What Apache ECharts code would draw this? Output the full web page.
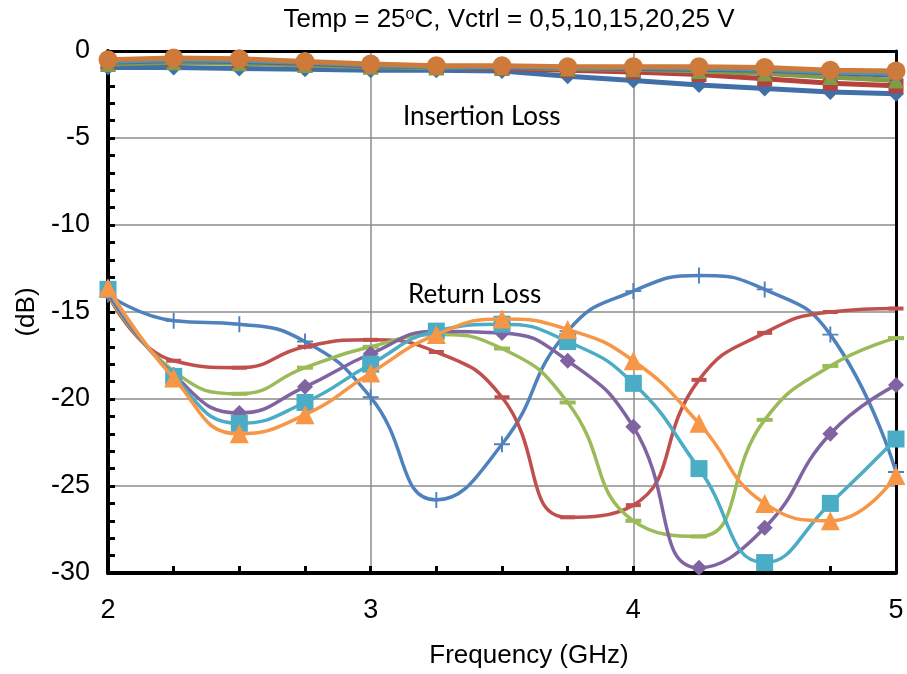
<!DOCTYPE html>
<html>
<head>
<meta charset="utf-8">
<script src="https://cdn.jsdelivr.net/npm/echarts@6/dist/echarts.min.js"></script>
<style>
  html, body { margin: 0; padding: 0; background: #fff; }
  #chart { width: 907px; height: 674px; }
</style>
</head>
<body>
<div id="chart"></div>
<script>
// frequency points (GHz)
var freq = [2, 2.25, 2.5, 2.75, 3, 3.25, 3.5, 3.75, 4, 4.25, 4.5, 4.75, 5];

// return loss, Vctrl = 0,5,10,15,20,25 V
var rl0  = [-14.0, -15.5, -15.7, -16.7, -19.9, -25.8, -22.6, -16.1, -13.8, -12.9, -13.7, -16.3, -24.2];
var rl5  = [-14.0, -17.8, -18.2, -17.0, -16.6, -17.3, -19.9, -26.8, -26.1, -18.9, -16.2, -15.0, -14.8];
var rl10 = [-14.0, -18.4, -19.7, -18.2, -17.0, -16.3, -17.1, -20.2, -27.0, -27.9, -21.2, -18.1, -16.5];
var rl15 = [-13.9, -18.6, -20.8, -19.3, -17.4, -16.1, -16.2, -17.8, -21.6, -29.7, -27.4, -22.0, -19.2];
var rl20 = [-13.7, -18.7, -21.4, -20.2, -18.0, -16.1, -15.7, -16.7, -19.1, -24.0, -29.4, -26.0, -22.3];
var rl25 = [-13.6, -18.8, -22.0, -20.9, -18.5, -16.3, -15.4, -16.0, -17.8, -21.4, -26.0, -27.0, -24.4];

// insertion loss, Vctrl = 0,5,10,15,20,25 V
var il0  = [-0.95, -0.95, -1.0, -1.05, -1.1, -1.1, -1.15, -1.45, -1.7, -1.95, -2.15, -2.35, -2.45];
var il5  = [-0.7, -0.6, -0.65, -0.75, -0.85, -0.95, -1.0, -1.1, -1.2, -1.35, -1.6, -1.85, -2.0];
var il10 = [-0.75, -0.65, -0.7, -0.8, -0.9, -0.95, -0.95, -1.0, -1.05, -1.15, -1.3, -1.5, -1.7];
var il15 = [-0.65, -0.55, -0.6, -0.7, -0.85, -0.9, -0.95, -0.95, -1.0, -1.05, -1.1, -1.25, -1.4];
var il20 = [-0.6, -0.5, -0.55, -0.65, -0.8, -0.9, -0.9, -0.95, -0.95, -1.0, -1.05, -1.2, -1.3];
var il25 = [-0.5, -0.4, -0.45, -0.6, -0.75, -0.85, -0.85, -0.9, -0.9, -0.9, -0.95, -1.1, -1.15];

var rlColors = ['#4F81BD', '#C0504D', '#9BBB59', '#8064A2', '#4BACC6', '#F79646'];
var ilColors = ['#4170A8', '#B8413D', '#7F9C49', '#6A5591', '#3D9CB5', '#CD7A3A'];

var plusSym = 'path://M4.4,0h1.2v4.4h4.4v1.2h-4.4v4.4h-1.2v-4.4h-4.4v-1.2h4.4z';
var dashSym = 'path://M0,0h10v2.4h-10z';
var xSym = 'path://M1,0L5,4L9,0L10,1L6,5L10,9L9,10L5,6L1,10L0,9L4,5L0,1z';
var starSym = 'path://M4.4,0h1.2v4.4h4.4v1.2h-4.4v4.4h-1.2v-4.4h-4.4v-1.2h4.4zM1,0L5,4L9,0L10,1L6,5L10,9L9,10L5,6L1,10L0,9L4,5L0,1z';

function pts(arr) {
  return freq.map(function (f, i) { return [f, arr[i]]; });
}

var ilSets = [il0, il5, il10, il15, il20, il25];
var ilSyms = ['diamond', 'rect', 'triangle', xSym, starSym, 'circle'];
var ilSizes = [16, 15, 16, 13, 13, 19];

var rlSets = [rl0, rl5, rl10, rl15, rl20, rl25];
var rlSyms = [plusSym, dashSym, dashSym, 'diamond', 'rect', 'triangle'];
var rlSizes = [16, [15, 4], [16, 4], 16, 17, 19];

var series = [];
ilSets.forEach(function (d, i) {
  series.push({
    type: 'line',
    data: pts(d),
    smooth: false,
    symbol: ilSyms[i],
    symbolSize: ilSizes[i],
    showAllSymbol: true,
    lineStyle: { color: ilColors[i], width: 5 },
    itemStyle: { color: ilColors[i] },
    z: 2 + i
  });
});
rlSets.forEach(function (d, i) {
  series.push({
    type: 'line',
    data: pts(d),
    smooth: 0.5,
    symbol: rlSyms[i],
    symbolSize: rlSizes[i],
    showAllSymbol: true,
    lineStyle: { color: rlColors[i], width: 3.5 },
    itemStyle: { color: rlColors[i] },
    z: 10 + i
  });
});

// frame lines on top / right side
var frameAxis = {
  type: 'value',
  axisLine: { show: true, onZero: false, lineStyle: { color: '#000', width: 3 } },
  axisTick: { show: false },
  axisLabel: { show: false },
  splitLine: { show: false }
};

var myChart = echarts.init(document.getElementById('chart'), null, { renderer: 'canvas' });
var option = {
  animation: false,
  backgroundColor: '#fff',
  title: {
    text: 'Temp = 25{s|o}C, Vctrl = 0,5,10,15,20,25 V',
    left: 504,
    textAlign: 'center',
    top: 2,
    textStyle: {
      fontFamily: 'Liberation Sans',
      fontSize: 26,
      fontWeight: 'normal',
      color: '#000',
      rich: {
        s: { fontSize: 16, fontFamily: 'Liberation Sans', color: '#000', verticalAlign: 'top', padding: [0, 0, 10, 0] }
      }
    }
  },
  grid: {
    left: 108, right: 11, top: 51, bottom: 101,
    outerBoundsMode: 'none',
    containLabel: false
  },
  xAxis: [{
    type: 'value',
    min: 2, max: 5, interval: 1,
    name: 'Frequency (GHz)',
    nameLocation: 'middle',
    nameGap: 70,
    nameTextStyle: { fontFamily: 'Liberation Sans', fontSize: 26, color: '#000', padding: [0, 0, 0, 54] },
    axisLine: { show: true, onZero: false, lineStyle: { color: '#000', width: 4 } },
    axisTick: { show: true, inside: true, length: 7, lineStyle: { color: '#000', width: 3 } },
    minorTick: { show: true, splitNumber: 4, length: 7, lineStyle: { color: '#000', width: 3 } },
    axisLabel: { margin: 24, fontFamily: 'Liberation Sans', fontSize: 27, color: '#000' },
    splitLine: { show: true, lineStyle: { color: '#8c8c8c', width: 1.5 } }
  }, Object.assign({ position: 'top', min: 2, max: 5 }, frameAxis)],
  yAxis: [{
    type: 'value',
    min: -30, max: 0, interval: 5,
    name: '(dB)',
    nameLocation: 'middle',
    nameRotate: 90,
    nameGap: 68,
    nameTextStyle: { fontFamily: 'Liberation Sans', fontSize: 26, color: '#000' },
    axisLine: { show: true, onZero: false, lineStyle: { color: '#000', width: 4 } },
    axisTick: { show: true, inside: true, length: 7, lineStyle: { color: '#000', width: 3 } },
    minorTick: { show: true, splitNumber: 5, length: 7, lineStyle: { color: '#000', width: 3 } },
    axisLabel: { margin: 18, fontFamily: 'Liberation Sans', fontSize: 27, color: '#000' },
    splitLine: { show: true, lineStyle: { color: '#8c8c8c', width: 1.5 } }
  }, Object.assign({ position: 'right', min: -30, max: 0 }, frameAxis)],
  graphic: [
    { type: 'text', left: 403, top: 104, z: 50,
      style: { text: 'Insertion Loss', font: '26px Lato', fill: '#000' } },
    { type: 'text', left: 408, top: 282, z: 50,
      style: { text: 'Return Loss', font: '26px Lato', fill: '#000' } }
  ],
  series: series
};
myChart.setOption(option);
</script>
</body>
</html>
